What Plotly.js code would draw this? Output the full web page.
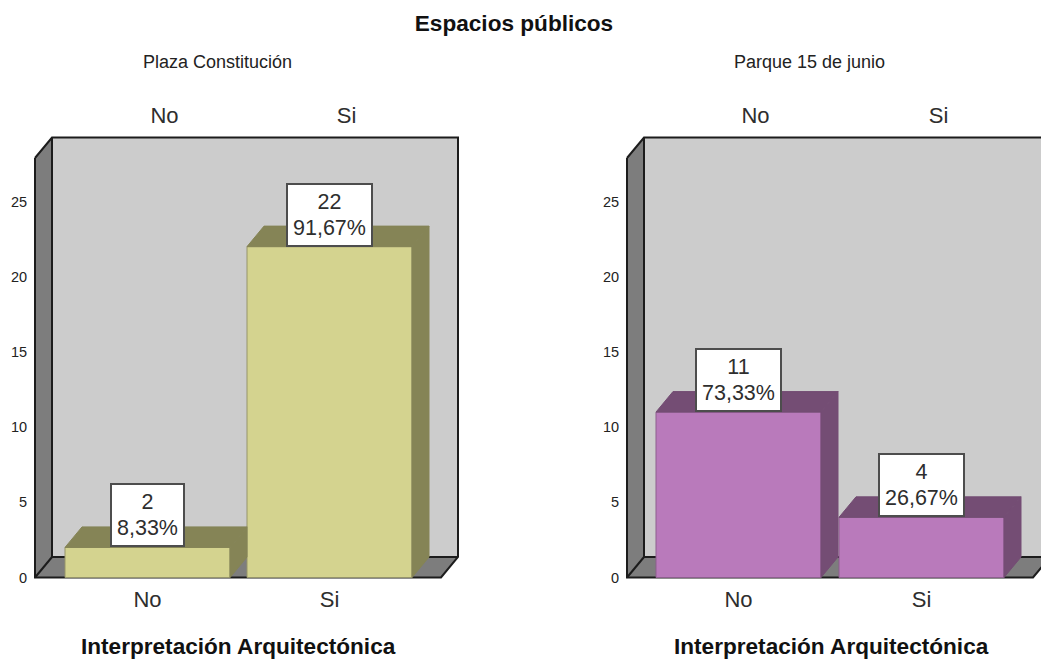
<!DOCTYPE html>
<html><head><meta charset="utf-8">
<script src="https://cdn.plot.ly/plotly-3.0.1.min.js"></script>
<style>html,body{margin:0;padding:0;background:#fff;overflow:hidden}</style>
</head><body><div id="chart" style="width:1041px;height:660px"></div>
<script>
const categories = ['No', 'Si'];
const panelNames = ['Plaza Constitución', 'Parque 15 de junio'];
const plazaCounts = [2, 22];
const plazaPercents = ['8,33%', '91,67%'];
const parqueCounts = [11, 4];
const parquePercents = ['73,33%', '26,67%'];
const yTicks = [0, 5, 10, 15, 20, 25];
const mainTitle = 'Espacios públicos';
const xTitle = 'Interpretación Arquitectónica';

const W = 1041, H = 660;
const mL = 33, mB = 80, mT = 134;
const plotW = W - mL;
const pxPerUnit = 15.04;
const dy = 20.5 / pxPerUnit;
const topV = 440 / pxPerUnit;
const yRange = [-(2.5 / pxPerUnit), (577.5 - mT) / pxPerUnit];
const sans = 'Liberation Sans, Arial, sans-serif';

const panels = [
  {counts: plazaCounts, pct: plazaPercents, name: panelNames[0], zero: 147.5, catPx: 182, left: 33, right: 461, front: 35,
   colFront: '#d4d38f', colDark: '#858456', colEdge: '#96956a', xa: 'x', ya: 'y', top: 'x3', titleX: 217, xTitleX: 238},
  {counts: parqueCounts, pct: parquePercents, name: panelNames[1], zero: 738.5, catPx: 183, left: 625, right: 1041, front: 627,
   colFront: '#b97abb', colDark: '#744d74', colEdge: '#8d5f8e', xa: 'x2', ya: 'y2', top: 'x4', titleX: 809, xTitleX: 831}
];

const traces = [], shapes = [], annotations = [];
const poly = pts => 'M' + pts.map(p => p[0] + ' ' + p[1]).join(' L');
const big = s => '<span style="font-size:21.5px">' + s + '</span>';

panels.forEach(p => {
  const dx = 17 / p.catPx, barW = 165 / p.catPx;
  const xL = (p.front - p.zero) / p.catPx, span = 406 / p.catPx;
  const xR = xL + span;
  const base = {xref: p.xa, yref: p.ya, layer: 'below', type: 'path'};
  const back = [[xL+dx,dy],[xR+dx,dy],[xR+dx,topV],[xL+dx,topV]];
  const side = [[xL,0],[xL+dx,dy],[xL+dx,topV],[xL,topV-dy]];
  const floor = [[xL,0],[xR,0],[xR+dx,dy],[xL+dx,dy]];
  shapes.push(Object.assign({}, base, {path: poly(back)+' Z', fillcolor:'#cccccc', line:{width:0}}));
  shapes.push(Object.assign({}, base, {path: poly(side)+' Z', fillcolor:'#7d7d7d', line:{width:0}}));
  shapes.push(Object.assign({}, base, {path: poly(floor)+' Z', fillcolor:'#7d7d7d', line:{width:0}}));
  shapes.push(Object.assign({}, base, {path: poly([[xL,topV-dy],[xL,0],[xR,0],[xR+dx,dy],[xR+dx,topV],[xL+dx,topV],[xL,topV-dy]]),
    fillcolor:'rgba(0,0,0,0)', line:{color:'#1c1c1c', width:2}}));
  shapes.push(Object.assign({}, base, {path: poly([[xL+dx,topV],[xL+dx,dy],[xR+dx,dy]]),
    fillcolor:'rgba(0,0,0,0)', line:{color:'#1c1c1c', width:2}}));
  shapes.push(Object.assign({}, base, {path: poly([[xL,0],[xL+dx,dy]]),
    fillcolor:'rgba(0,0,0,0)', line:{color:'#1c1c1c', width:2}}));

  const idx = categories.map((c, i) => i);
  traces.push({type:'bar', x: idx, y: p.counts, width: barW, xaxis:p.xa, yaxis:p.ya, showlegend:false, hoverinfo:'skip',
    marker:{color:p.colFront, line:{color:p.colEdge, width:1}}});
  p.counts.forEach((v, i) => {
    const a = i - barW/2, b = i + barW/2;
    const common = {type:'scatter', mode:'lines', fill:'toself', fillcolor:p.colDark, xaxis:p.xa, yaxis:p.ya,
      line:{color:p.colDark, width:1}, showlegend:false, hoverinfo:'skip'};
    traces.push(Object.assign({}, common, {x:[a,b,b+dx,a+dx,a], y:[v,v,v+dy,v+dy,v]}));
    traces.push(Object.assign({}, common, {x:[b,b+dx,b+dx,b,b], y:[0,dy,v+dy,v,0]}));
    annotations.push({xref:p.xa, yref:p.ya, x:i, y:v, yanchor:'bottom', xanchor:'center', showarrow:false,
      text:big(String(v)) + '<br>' + big(p.pct[i]), height:50, valign:'middle', align:'center', bgcolor:'#ffffff', bordercolor:'#4d4d4d', borderwidth:2, borderpad:5,
      font:{family:sans, size:19.4, color:'#2e2e2e'}});
  });
  traces.push({type:'scatter', mode:'none', x:[0,1], y:[0,0], xaxis:p.top, yaxis:p.ya, showlegend:false, hoverinfo:'skip'});
  annotations.push({xref:'paper', yref:'paper', x:(p.titleX-mL)/plotW, y:1, yshift:mT-62, yanchor:'middle', xanchor:'center', showarrow:false,
    text:p.name, font:{family:sans, size:18, color:'#222'}});
  annotations.push({xref:'paper', yref:'paper', x:(p.xTitleX-mL)/plotW, y:0, yshift:-(646-(H-mB)), yanchor:'middle', xanchor:'center', showarrow:false,
    text:'<b>'+xTitle+'</b>', font:{family:sans, size:22.6, color:'#111'}});
});

const catAxis = (p, side, len) => {
  const shift = side === 'top' ? 17 / p.catPx : 0;
  return {
    domain: [(p.left-mL)/plotW, (p.right-mL)/plotW],
    range: [(p.left-p.zero)/p.catPx - shift, (p.right-p.zero)/p.catPx - shift],
    tickmode:'array', tickvals: categories.map((c,i)=>i), ticktext: categories,
    ticks:'outside', ticklen:len, tickcolor:'rgba(0,0,0,0)', showgrid:false, zeroline:false, showline:false, side:side,
    tickfont:{family:sans, size:22, color:'#2e2e2e'}
  };
};
const valAxis = (anchor) => ({
  anchor:anchor, range:yRange, tickmode:'array', tickvals:yTicks, ticks:'outside', ticklen:2, tickcolor:'rgba(0,0,0,0)',
  showgrid:false, zeroline:false, showline:false,
  tickfont:{family:sans, size:14.5, color:'#222'}
});

const layout = {
  width:W, height:H, paper_bgcolor:'#fff', plot_bgcolor:'rgba(0,0,0,0)',
  margin:{l:mL, r:0, t:mT, b:mB, pad:0}, showlegend:false, barmode:'overlay',
  title:{text:'<b>'+mainTitle+'</b>', x:514/W, xref:'container', xanchor:'center', y:1-23/H, yref:'container', yanchor:'middle',
    font:{family:sans, size:22.6, color:'#111'}},
  xaxis:Object.assign(catAxis(panels[0],'bottom',0),{anchor:'y'}),
  xaxis2:Object.assign(catAxis(panels[1],'bottom',0),{anchor:'y2'}),
  xaxis3:Object.assign(catAxis(panels[0],'top',1),{anchor:'y', overlaying:'x'}),
  xaxis4:Object.assign(catAxis(panels[1],'top',1),{anchor:'y2', overlaying:'x2'}),
  yaxis:valAxis('x'),
  yaxis2:valAxis('x2'),
  shapes:shapes, annotations:annotations
};
Plotly.newPlot('chart', traces, layout, {displayModeBar:false, responsive:false});
</script></body></html>
